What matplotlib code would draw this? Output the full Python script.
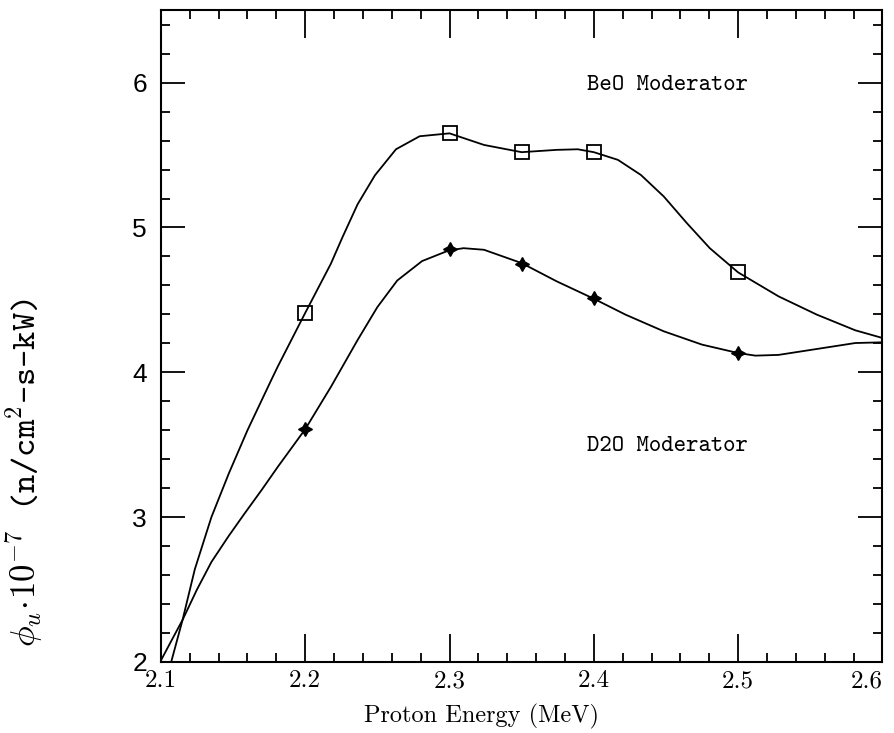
import matplotlib
matplotlib.use("Agg")
import matplotlib.pyplot as plt
from matplotlib.ticker import MultipleLocator, FormatStrFormatter

plt.rcParams['mathtext.fontset'] = 'cm'

# measured points (markers)
beo_x = [2.2, 2.3, 2.35, 2.4, 2.5]
beo_y = [4.41, 5.65, 5.52, 5.52, 4.69]
d2o_x = [2.2, 2.3, 2.35, 2.4, 2.5]
d2o_y = [3.61, 4.85, 4.75, 4.51, 4.13]

# smooth curves
beo_cx = [2.1074, 2.115, 2.1235, 2.135, 2.147, 2.160, 2.1764, 2.181, 2.2,
          2.2178, 2.2257, 2.2363, 2.2483, 2.2629, 2.2793, 2.3, 2.3239, 2.35,
          2.3743, 2.3889, 2.4, 2.4167, 2.4326, 2.4485, 2.4645, 2.4804, 2.5,
          2.5281, 2.5546, 2.5812, 2.6]
beo_cy = [2.01, 2.29, 2.64, 3.00, 3.30, 3.60, 3.945, 4.04, 4.41,
          4.75, 4.93, 5.16, 5.36, 5.54, 5.63, 5.65, 5.57, 5.52,
          5.536, 5.54, 5.52, 5.467, 5.363, 5.214, 5.03, 4.857, 4.69,
          4.524, 4.398, 4.29, 4.237]
d2o_cx = [2.1, 2.108, 2.115, 2.125, 2.135, 2.147, 2.158, 2.17, 2.181, 2.19, 2.2,
          2.2178, 2.2362, 2.25, 2.2638, 2.281, 2.2994, 2.3097, 2.3239, 2.35,
          2.3743, 2.4, 2.422, 2.4485, 2.475, 2.5, 2.512, 2.528, 2.5546, 2.5812, 2.6]
d2o_cy = [2.01, 2.16, 2.29, 2.50, 2.69, 2.87, 3.025, 3.19, 3.347, 3.47, 3.607,
          3.899, 4.221, 4.45, 4.634, 4.768, 4.841, 4.857, 4.846, 4.754,
          4.628, 4.508, 4.398, 4.283, 4.191, 4.133, 4.115, 4.12, 4.161, 4.202, 4.207]

xticks = [2.1, 2.2, 2.3, 2.4, 2.5, 2.6]
xtick_labels = ['2.1', '2.2', '2.3', '2.4', '2.5', '2.6']
yticks = [2, 3, 4, 5, 6]
ytick_labels = ['2', '3', '4', '5', '6']

fig = plt.figure(figsize=(8.94, 7.33), dpi=100)
ax = fig.add_axes([0.180, 0.097, 0.807, 0.889])

ax.plot(beo_cx, beo_cy, color='black', lw=1.3)
ax.plot(d2o_cx, d2o_cy, color='black', lw=1.3)
ax.plot(beo_x, beo_y, ls='none', marker='s', ms=10, mfc='none', mec='black', mew=1.3)
ax.plot(d2o_x, d2o_y, ls='none', marker=(4, 1, 0), ms=10, color='black')

ax.text(2.451, 5.98, 'BeO Moderator', family='cmtt10', fontsize=17, ha='center', va='center')
ax.text(2.451, 3.49, 'D2O Moderator', family='cmtt10', fontsize=17, ha='center', va='center')

ax.set_xlim(2.1, 2.6)
ax.set_ylim(2, 6.5)
ax.set_xticks(xticks)
xl = ax.set_xticklabels(xtick_labels, family='cmr10')
xl[-1].set_horizontalalignment('right')
ax.set_yticks(yticks)
ax.set_yticklabels(ytick_labels, family='Liberation Sans')
ax.xaxis.set_minor_locator(MultipleLocator(0.02))
ax.yaxis.set_minor_locator(MultipleLocator(0.2))

ax.tick_params(which='both', direction='in', top=True, right=True, width=1.3)
ax.tick_params(axis='x', which='major', length=20, pad=6, labelsize=18)
ax.tick_params(axis='y', which='major', length=17, pad=10, labelsize=19)
ax.tick_params(which='minor', length=6.5)
for s in ax.spines.values():
    s.set_linewidth(1.5)

ax.set_xlabel('Proton Energy (MeV)', family='cmr10', fontsize=17.5)
ax.xaxis.set_label_coords(0.444, -0.065)
ax.text(-0.19, 0.29, r'$\phi_u\!\cdot\!10^{-7}$ (n/cm$^2$-s-kW)', transform=ax.transAxes,
        rotation=90, family='cmtt10', fontsize=25, ha='center', va='center')

fig.savefig('out.png', dpi=100)
